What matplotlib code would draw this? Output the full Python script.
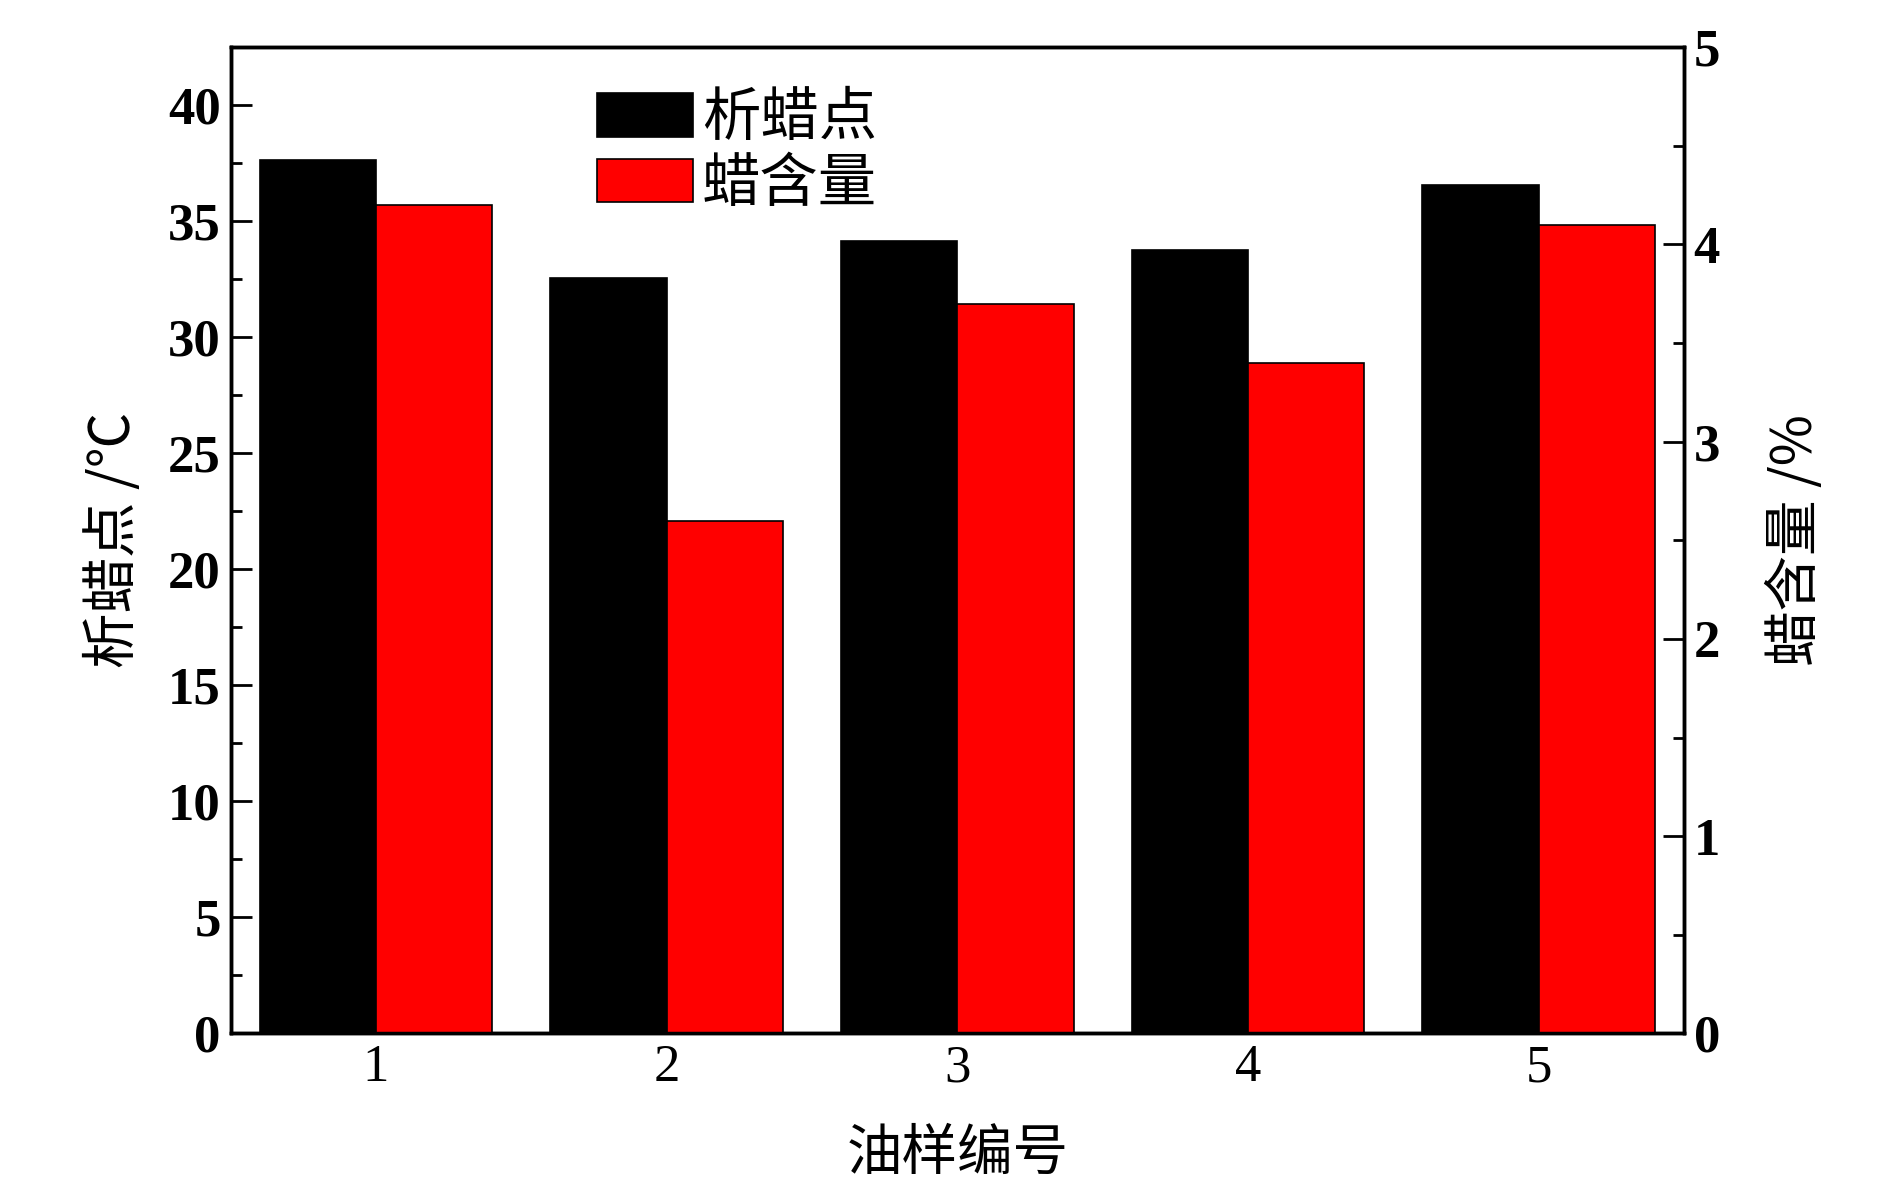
import numpy as np
import matplotlib.pyplot as plt
from matplotlib.ticker import MultipleLocator

samples = ['1', '2', '3', '4', '5']
wax_point = [37.65, 32.55, 34.15, 33.75, 36.55]   # 析蜡点 /℃
wax_content = [4.20, 2.60, 3.70, 3.40, 4.10]      # 蜡含量 /%

cjk = ['Noto Sans CJK SC', 'DejaVu Sans']
plt.rcParams['font.family'] = cjk

fig = plt.figure(figsize=(18.9, 11.81), dpi=100)
ax = fig.add_subplot(111)
fig.subplots_adjust(left=0.122, right=0.891, top=0.960, bottom=0.125)
ax2 = ax.twinx()

x = np.arange(1, len(samples) + 1)
w = 0.4
b1 = ax.bar(x - w / 2, wax_point, w, color='black', edgecolor='black', linewidth=1.2, label='析蜡点')
b2 = ax2.bar(x + w / 2, wax_content, w, color='#ff0000', edgecolor='black', linewidth=1.2, label='蜡含量')

ax.set_xlim(0.5, 5.5)
ax.set_ylim(0, 42.5)
ax2.set_ylim(0, 5)

ax.set_xticks(x)
ax.set_xticklabels(samples, family='Liberation Serif', fontsize=38)
ax.tick_params(axis='x', length=0, pad=8)

ax.yaxis.set_major_locator(MultipleLocator(5))
ax.yaxis.set_minor_locator(MultipleLocator(2.5))
ax2.yaxis.set_major_locator(MultipleLocator(1))
ax2.yaxis.set_minor_locator(MultipleLocator(0.5))
for a in (ax, ax2):
    a.tick_params(axis='y', which='major', direction='in', length=15, width=2, pad=7)
    a.tick_params(axis='y', which='minor', direction='in', length=8, width=2)
    for lab in a.get_yticklabels():
        lab.set_family('Liberation Serif')
        lab.set_fontweight('bold')
        lab.set_fontsize(38)
    for s in a.spines.values():
        s.set_linewidth(2.5)

ax.set_xlabel('油样编号', fontsize=40, labelpad=24)
ax.set_ylabel('析蜡点 /℃', fontsize=40, labelpad=18)
ax2.set_ylabel('蜡含量 /%', fontsize=40, labelpad=34)

ax2.legend([b1, b2], ['析蜡点', '蜡含量'], loc='upper left', bbox_to_anchor=(0.236, 0.982),
           frameon=False, fontsize=42, handlelength=1.65, handleheight=0.76,
           handletextpad=0.15, labelspacing=0.08, borderaxespad=0)

fig.savefig('out.png', dpi=100)
